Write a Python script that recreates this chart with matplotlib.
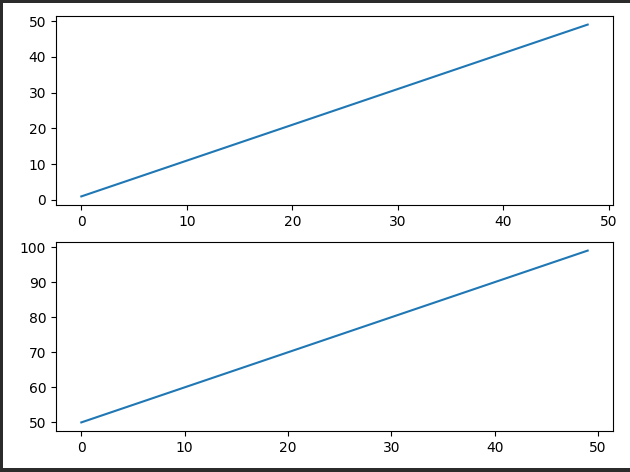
import matplotlib
matplotlib.use('Agg')
import matplotlib.pyplot as plt
from matplotlib.patches import Rectangle

# endpoints of the two straight lines
top_x = [0, 48]
top_y = [1, 49]
bottom_x = [0, 49]
bottom_y = [50, 99]

W, H = 630, 472
fig = plt.figure(figsize=(W / 100, H / 100), dpi=100)
fig.patch.set_facecolor('#2b2b2b')
# white canvas inside the dark frame of the screenshot
fig.patches.append(Rectangle((3 / W, 4 / H), 1, 1 - 7 / H,
                             transform=fig.transFigure, facecolor='white',
                             edgecolor='none', zorder=-10))


def px_axes(left, top, right, bottom):
    return fig.add_axes([left / W, 1 - bottom / H, (right - left) / W, (bottom - top) / H])


ax1 = px_axes(56, 16, 613, 205)
ax2 = px_axes(56, 242, 613, 431)

ax1.plot(top_x, top_y, color='#1f77b4')
ax2.plot(bottom_x, bottom_y, color='#1f77b4')

fig.savefig('out.png', dpi=100, facecolor=fig.get_facecolor())
